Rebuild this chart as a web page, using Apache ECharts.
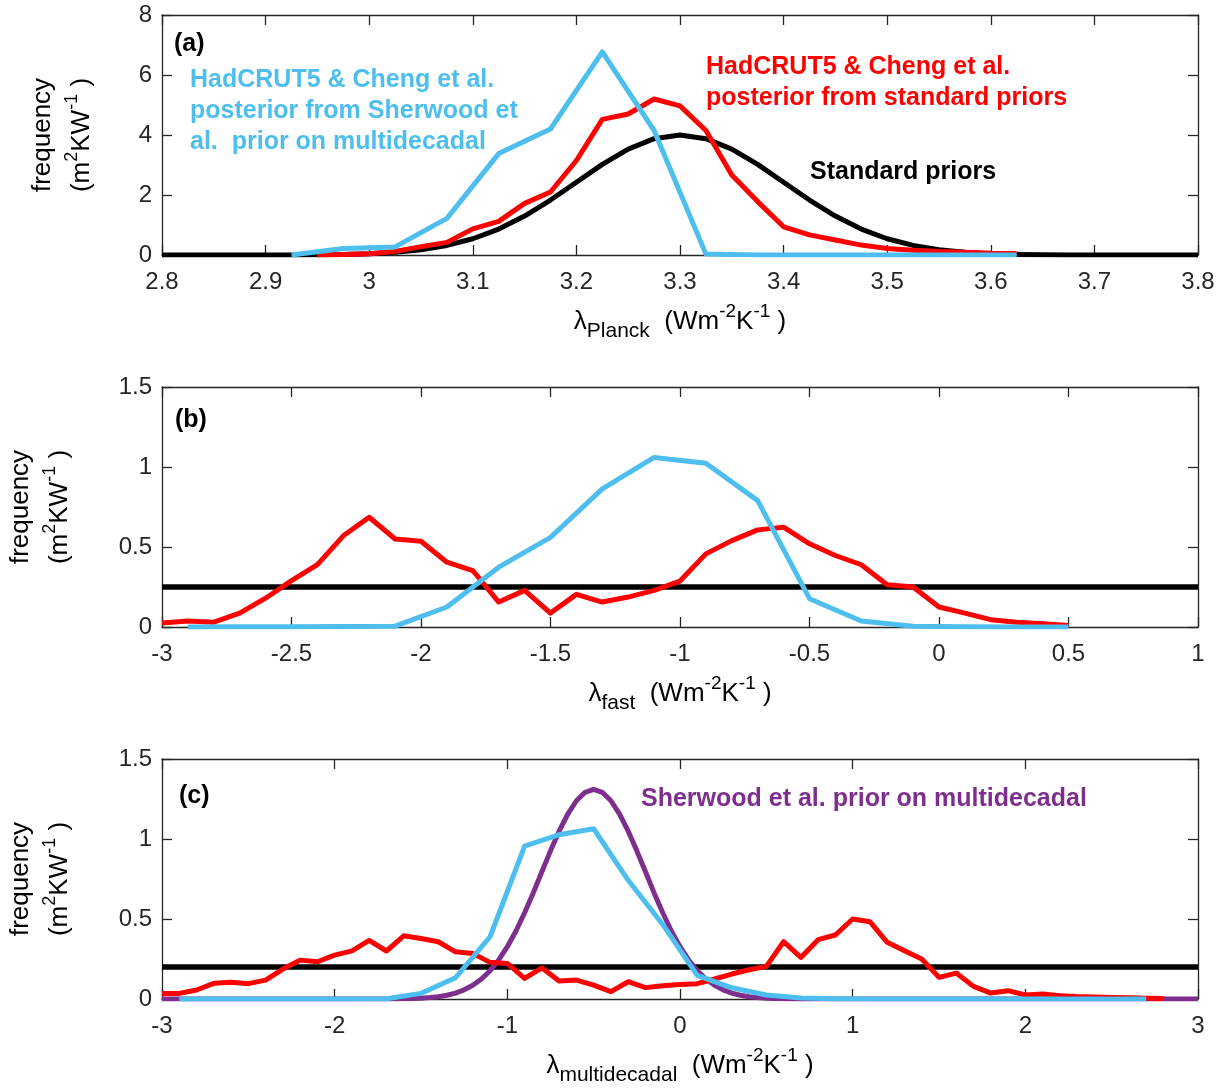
<!DOCTYPE html>
<html>
<head>
<meta charset="utf-8">
<script src="https://cdn.jsdelivr.net/npm/echarts@6/dist/echarts.min.js"></script>
<style>html,body{margin:0;padding:0;background:#fff}#chart{width:1223px;height:1090px}</style>
</head>
<body>
<div id="chart"></div>
<script>
// ---------- Panel (a): lambda Planck ----------
const aStdX = [2.8,2.85,2.9,2.925,2.95,2.975,3.0,3.025,3.05,3.075,3.1,3.125,3.15,3.175,3.2,3.225,3.25,3.275,3.3,3.325,3.35,3.375,3.4,3.425,3.45,3.475,3.5,3.525,3.55,3.575,3.6,3.625,3.65,3.675,3.7,3.75,3.8];
const aStdY = [0,0,0.0013,0.0035,0.0088,0.0204,0.0444,0.0913,0.1757,0.3185,0.5413,0.8651,1.2988,1.8314,2.4261,3.0191,3.53,3.8769,4.0,3.8769,3.53,3.0191,2.4261,1.8314,1.2988,0.8651,0.5413,0.3185,0.1757,0.0913,0.0444,0.0204,0.0088,0.0035,0.0013,0,0];
const aRedX = [2.95,2.975,3.0,3.025,3.05,3.075,3.1,3.125,3.15,3.175,3.2,3.225,3.25,3.275,3.3,3.325,3.35,3.375,3.4,3.425,3.45,3.475,3.5,3.525,3.55,3.575,3.6,3.625];
const aRedY = [0.0,0.02,0.04,0.12,0.28,0.42,0.87,1.12,1.72,2.1,3.15,4.52,4.7,5.2,4.97,4.15,2.67,1.78,0.94,0.67,0.5,0.33,0.22,0.16,0.12,0.09,0.06,0.05];
const aBlueX = [2.925,2.975,3.025,3.075,3.125,3.175,3.225,3.275,3.325,3.375,3.425,3.475,3.525,3.575,3.625];
const aBlueY = [0,0.22,0.27,1.22,3.38,4.2,6.77,4.15,0.03,0,0,0,0,0,0];

// ---------- Panel (b): lambda fast ----------
const bStdX = [-3,1];
const bStdY = [0.25,0.25];
const bRedX = [-3,-2.9,-2.8,-2.7,-2.6,-2.5,-2.4,-2.3,-2.2,-2.1,-2.0,-1.9,-1.8,-1.7,-1.6,-1.5,-1.4,-1.3,-1.2,-1.1,-1.0,-0.9,-0.8,-0.7,-0.6,-0.5,-0.4,-0.3,-0.2,-0.1,0,0.1,0.2,0.3,0.4,0.5];
const bRedY = [0.025,0.037,0.03,0.087,0.18,0.29,0.39,0.57,0.686,0.55,0.536,0.405,0.353,0.156,0.229,0.087,0.204,0.156,0.187,0.229,0.287,0.457,0.54,0.607,0.624,0.52,0.447,0.389,0.264,0.25,0.125,0.087,0.046,0.029,0.02,0.01];
const bBlueX = [-2.9,-2.7,-2.5,-2.3,-2.1,-1.9,-1.7,-1.5,-1.3,-1.1,-0.9,-0.7,-0.5,-0.3,-0.1,0.1,0.3,0.5];
const bBlueY = [0,0.001,0.002,0.003,0.005,0.125,0.374,0.56,0.863,1.06,1.023,0.79,0.177,0.037,0.004,0.001,0,0];

// ---------- Panel (c): lambda multidecadal ----------
const cStdX = [-3,3];
const cStdY = [0.2,0.2];
const cRedX = [-3.0,-2.9,-2.8,-2.7,-2.6,-2.5,-2.4,-2.3,-2.2,-2.1,-2.0,-1.9,-1.8,-1.7,-1.6,-1.5,-1.4,-1.3,-1.2,-1.1,-1.0,-0.9,-0.8,-0.7,-0.6,-0.5,-0.4,-0.3,-0.2,-0.1,0.0,0.1,0.2,0.3,0.4,0.5,0.6,0.7,0.8,0.9,1.0,1.1,1.2,1.3,1.4,1.5,1.6,1.7,1.8,1.9,2.0,2.1,2.2,2.3,2.4,2.5,2.6,2.7,2.8];
const cRedY = [0.035,0.035,0.056,0.098,0.104,0.096,0.118,0.187,0.243,0.233,0.274,0.301,0.366,0.300,0.395,0.378,0.358,0.295,0.285,0.229,0.222,0.129,0.195,0.112,0.118,0.087,0.046,0.108,0.071,0.083,0.090,0.096,0.125,0.156,0.183,0.204,0.358,0.260,0.371,0.400,0.500,0.483,0.354,0.302,0.250,0.135,0.162,0.079,0.037,0.052,0.025,0.031,0.021,0.015,0.012,0.010,0.008,0.005,0.003];
const cBlueX = [-2.9,-2.7,-2.5,-2.3,-2.1,-1.9,-1.7,-1.5,-1.3,-1.1,-0.9,-0.7,-0.5,-0.3,-0.1,0.1,0.3,0.5,0.7,0.9,1.1,1.3,1.5,1.7,1.9,2.1,2.3,2.5,2.7];
const cBlueY = [0,0,0,0,0,0,0.002,0.035,0.133,0.389,0.956,1.027,1.064,0.742,0.466,0.148,0.07,0.025,0.006,0.002,0,0,0,0,0,0,0,0,0];
const cPurX = [-3.0,-2.5,-2.0,-1.7,-1.6,-1.5,-1.45,-1.4,-1.35,-1.3,-1.25,-1.2,-1.15,-1.1,-1.05,-1.0,-0.95,-0.9,-0.85,-0.8,-0.75,-0.7,-0.65,-0.6,-0.55,-0.5,-0.45,-0.4,-0.35,-0.3,-0.25,-0.2,-0.15,-0.1,-0.05,0.0,0.05,0.1,0.15,0.2,0.25,0.3,0.35,0.4,0.45,0.5,0.6,0.7,1.0,2.0,3.0];
const cPurY = [0,0,0,0.0004,0.0016,0.005,0.0087,0.0146,0.0237,0.037,0.0575,0.086,0.125,0.177,0.244,0.327,0.425,0.539,0.663,0.795,0.926,1.049,1.156,1.239,1.292,1.31,1.292,1.239,1.156,1.049,0.926,0.795,0.663,0.539,0.425,0.327,0.244,0.177,0.125,0.086,0.0575,0.037,0.0237,0.0146,0.0087,0.005,0.0016,0.0004,0,0,0];

// axis ranges / ticks
const xRanges = [[2.8,3.8,0.1],[-3,1,0.5],[-3,3,1]];
const yRanges = [[0,8,2],[0,1.5,0.5],[0,1.5,0.5]];

const COL = {blue:'#4DBEEE', red:'#FF0000', black:'#000000', purple:'#7E2F8E', axis:'#262626'};
const FONT = '"Liberation Sans", Arial, Helvetica, sans-serif';
const zip = (xs, ys) => xs.map((x, i) => [x, ys[i]]);

const grids = [
  {left:162, right:25, top:15, height:240},
  {left:162, right:25, top:387, height:240},
  {left:162, right:25, top:759, height:240}
];

const xAxes = [], yAxes = [];
grids.forEach((g, i) => {
  const [xmin,xmax,xint] = xRanges[i];
  const [ymin,ymax,yint] = yRanges[i];
  const common = {
    gridIndex:i, type:'value',
    axisLine:{show:true, onZero:false, lineStyle:{color:COL.axis, width:1.3}},
    axisTick:{show:true, inside:true, length:10, lineStyle:{color:COL.axis, width:1.3}},
    splitLine:{show:false}
  };
  xAxes.push(Object.assign({}, common, {position:'bottom', min:xmin, max:xmax, interval:xint,
    axisLabel:{show:true, fontSize:24, color:COL.axis, fontFamily:FONT, margin:15}}));
  xAxes.push(Object.assign({}, common, {position:'top', min:xmin, max:xmax, interval:xint,
    axisLabel:{show:false}}));
  yAxes.push(Object.assign({}, common, {position:'left', min:ymin, max:ymax, interval:yint,
    axisLabel:{show:true, fontSize:24, color:COL.axis, fontFamily:FONT, margin:10}}));
  yAxes.push(Object.assign({}, common, {position:'right', min:ymin, max:ymax, interval:yint,
    axisLabel:{show:false}}));
});

function line(i, xs, ys, color, width) {
  return {type:'line', xAxisIndex:2*i, yAxisIndex:2*i, data:zip(xs, ys),
    showSymbol:false, symbol:'none', clip:true, silent:true,
    lineStyle:{color:color, width:width, join:'round'}};
}

const series = [
  line(0, aStdX, aStdY, COL.black, 5),
  line(0, aRedX, aRedY, COL.red, 5),
  line(0, aBlueX, aBlueY, COL.blue, 5),
  line(1, bStdX, bStdY, COL.black, 5.5),
  line(1, bRedX, bRedY, COL.red, 5),
  line(1, bBlueX, bBlueY, COL.blue, 5),
  line(2, cStdX, cStdY, COL.black, 5.5),
  line(2, cPurX, cPurY, COL.purple, 5),
  line(2, cRedX, cRedY, COL.red, 5),
  line(2, cBlueX, cBlueY, COL.blue, 5)
];

// rich text styles
const xRich = {
  m:{fontSize:26, lineHeight:40, verticalAlign:'middle', fill:'#000', fontFamily:FONT},
  sub:{fontSize:21, lineHeight:16, verticalAlign:'bottom', fill:'#000', fontFamily:FONT},
  sup:{fontSize:19, lineHeight:22, verticalAlign:'top', fill:'#000', fontFamily:FONT}
};
const yRich = {
  m:{fontSize:26, lineHeight:38, verticalAlign:'middle', fill:'#000', fontFamily:FONT},
  sup:{fontSize:18, lineHeight:20, verticalAlign:'top', fill:'#000', fontFamily:FONT}
};
function xLabel(sub, y) {
  return {type:'text', x:680, y:y, silent:true, style:{
    text:'{m|λ}{sub|' + sub + '}{m|  (Wm}{sup|-2}{m|K}{sup|-1}{m| )}',
    rich:xRich, align:'center', verticalAlign:'middle'}};
}
function yLabels(x1, x2, yc) {
  return [
    {type:'text', x:x1, y:yc, rotation:Math.PI/2, silent:true, style:{
      text:'{m|frequency}', rich:yRich, align:'center', verticalAlign:'middle'}},
    {type:'text', x:x2, y:yc, rotation:Math.PI/2, silent:true, style:{
      text:'{m|(m}{sup|2}{m|KW}{sup|-1}{m| )}', rich:yRich, align:'center', verticalAlign:'middle'}}
  ];
}
function note(x, y, text, color) {
  return {type:'text', x:x, y:y, silent:true, style:{
    text:text, fill:color, fontSize:25, fontWeight:'bold', fontFamily:FONT,
    align:'left', verticalAlign:'middle'}};
}

const graphic = [
  xLabel('Planck', 322), xLabel('fast', 694), xLabel('multidecadal', 1066),
  ...yLabels(43, 82, 135), ...yLabels(21, 60, 507), ...yLabels(21, 60, 879),
  note(174, 44, '(a)', '#000'),
  note(175, 420, '(b)', '#000'),
  note(179, 796, '(c)', '#000'),
  note(190, 80, 'HadCRUT5 & Cheng et al.', COL.blue),
  note(190, 111, 'posterior from Sherwood et', COL.blue),
  note(190, 142, 'al.  prior on multidecadal', COL.blue),
  note(706, 67, 'HadCRUT5 & Cheng et al.', COL.red),
  note(706, 98, 'posterior from standard priors', COL.red),
  note(810, 172, 'Standard priors', '#000'),
  note(641, 799, 'Sherwood et al. prior on multidecadal', COL.purple)
];

const chart = echarts.init(document.getElementById('chart'), null, {renderer:'canvas'});
chart.setOption({
  animation:false,
  backgroundColor:'#ffffff',
  grid:grids,
  xAxis:xAxes,
  yAxis:yAxes,
  series:series,
  graphic:graphic
});
</script>
</body>
</html>
